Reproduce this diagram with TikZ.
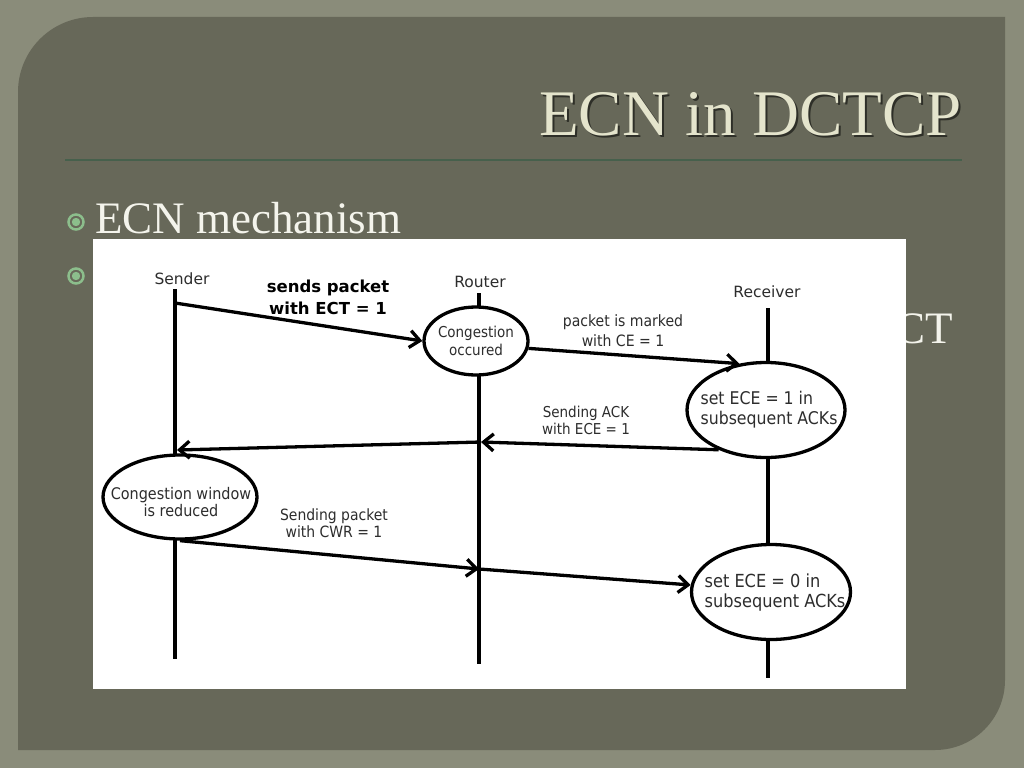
\documentclass[tikz,border=0pt]{standalone}
\usepackage{fontspec}
\setmainfont{Liberation Serif}
\newfontfamily\diagfont{DejaVu Sans}
\newfontfamily\diagcond{DejaVu Sans Condensed}
\usetikzlibrary{arrows.meta, positioning, shapes.geometric}
\definecolor{slidebg}{RGB}{138,140,122}
\definecolor{panelbg}{RGB}{103,104,89}
\definecolor{titlecol}{RGB}{228,228,204}
\definecolor{itemcol}{RGB}{244,244,236}
\definecolor{rulecol}{RGB}{70,96,76}
\definecolor{bulletcol}{RGB}{140,190,140}
\definecolor{inkgray}{RGB}{45,45,45}

\begin{document}
\begin{tikzpicture}[x=1pt, y=-1pt,
  lifeline/.style={line width=4pt},
  msg/.style={line width=3.3pt, -{Straight Barb[length=10pt, width=17pt]}},
  event/.style={ellipse, draw, fill=white, line width=3.3pt, inner sep=0pt},
  actor/.style={font=\diagfont\fontsize{15.5}{18}\selectfont, text=inkgray},
  msglabel/.style={align=center, text=inkgray}]

% slide background
\fill[slidebg] (0,0) rectangle (1024,768);
\useasboundingbox (0,0) rectangle (1024,768);
\fill[panelbg] (18,750) -- (18,92) arc[start angle=180, end angle=270, radius=75]
  -- (1005,17) -- (1005,680) arc[start angle=0, end angle=90, radius=70] -- cycle;

% title and rule
\node[anchor=base east, inner sep=0pt, text=black!55!panelbg, font=\fontsize{65}{65}\selectfont] (titleshadow) at (964,137) {ECN in DCTCP};
\node[anchor=base east, inner sep=0pt, text=titlecol, font=\fontsize{65}{65}\selectfont] (title) at (962,135) {ECN in DCTCP};
\draw[rulecol, line width=2pt] (65,160) -- (962,160);

% bullets
\foreach \y/\name in {222/bulA, 276/bulB} {
  \draw[bulletcol, line width=2.5pt] (76,\y) circle (7.5);
  \fill[bulletcol] (76,\y) circle (4.2);
}
\node[anchor=base west, inner sep=0pt, text=itemcol, font=\fontsize{45}{45}\selectfont] (ecnitem) at (95,233) {ECN mechanism};
\node[anchor=base east, inner sep=0pt, text=itemcol, font=\fontsize{45}{45}\selectfont] (ctitem) at (953,343) {CT};

% diagram picture
\fill[white] (93,239) rectangle (906,689);

% lifelines
\node[actor] (sndr) at (182,279) {Sender};
\node[actor] (rtr) at (480,282) {Router};
\node[actor] (rcvr) at (767,292) {Receiver};
\coordinate (sTop) at (175,289);
\coordinate (sBot) at (175,659);
\coordinate (rTop) at (479,293);
\coordinate (rBot) at (479,664);
\coordinate (cTop) at (768,308);
\coordinate (cBot) at (768,678);
\draw[lifeline] (sTop) -- (sBot);
\draw[lifeline] (rTop) -- (rBot);
\draw[lifeline] (cTop) -- (cBot);

% events
\node[event, minimum width=104pt, minimum height=68pt] (cong) at (476,341) {};
\node[event, minimum width=158pt, minimum height=95pt] (ece1) at (766,410) {};
\node[event, minimum width=154pt, minimum height=84pt] (cwnd) at (180,497) {};
\node[event, minimum width=159pt, minimum height=95pt] (ece0) at (771,592) {};
\node[align=center, text=inkgray, font=\diagcond\fontsize{15}{18}\selectfont] (congtxt) at (cong) {Congestion\\occured};
\node[align=left, text=inkgray, font=\diagcond\fontsize{17.5}{20}\selectfont] (ece1txt) at (769,410) {set ECE = 1 in\\subsequent ACKs};
\node[align=center, text=inkgray, font=\diagcond\fontsize{16}{17}\selectfont] (cwndtxt) at (181,502) {Congestion window\\is reduced};
\node[align=left, text=inkgray, font=\diagcond\fontsize{18}{20}\selectfont] (ece0txt) at (775,593) {set ECE = 0 in\\subsequent ACKs};

% messages
\coordinate (s1) at (175,303);
\coordinate (r3) at (481,442);
\coordinate (s3) at (177,450);
\coordinate (r4) at (479,569);
\draw[msg] (s1) -- (cong.west);
\draw[msg] (cong.-8) -- (ece1.120);
\draw[msg] (ece1.220) -- (r3);
\draw[msg] (r3) -- (s3);
\draw[msg] (cwnd.south) -- (r4);
\draw[msg] (r4) -- (ece0.175);

% message labels
\node[msglabel, text=black, font=\diagfont\bfseries\fontsize{16.5}{22}\selectfont] (ectlbl) at (328,297) {sends packet\\with ECT = 1};
\node[msglabel, font=\diagcond\fontsize{15.6}{20}\selectfont] (celbl) at (623,331) {packet is marked\\with CE = 1};
\node[msglabel, font=\diagcond\fontsize{15}{17}\selectfont] (acklbl) at (586,420) {Sending ACK\\with ECE = 1};
\node[msglabel, font=\diagcond\fontsize{15.5}{17}\selectfont] (cwrlbl) at (334,523) {Sending packet\\with CWR = 1};
\end{tikzpicture}
\end{document}
